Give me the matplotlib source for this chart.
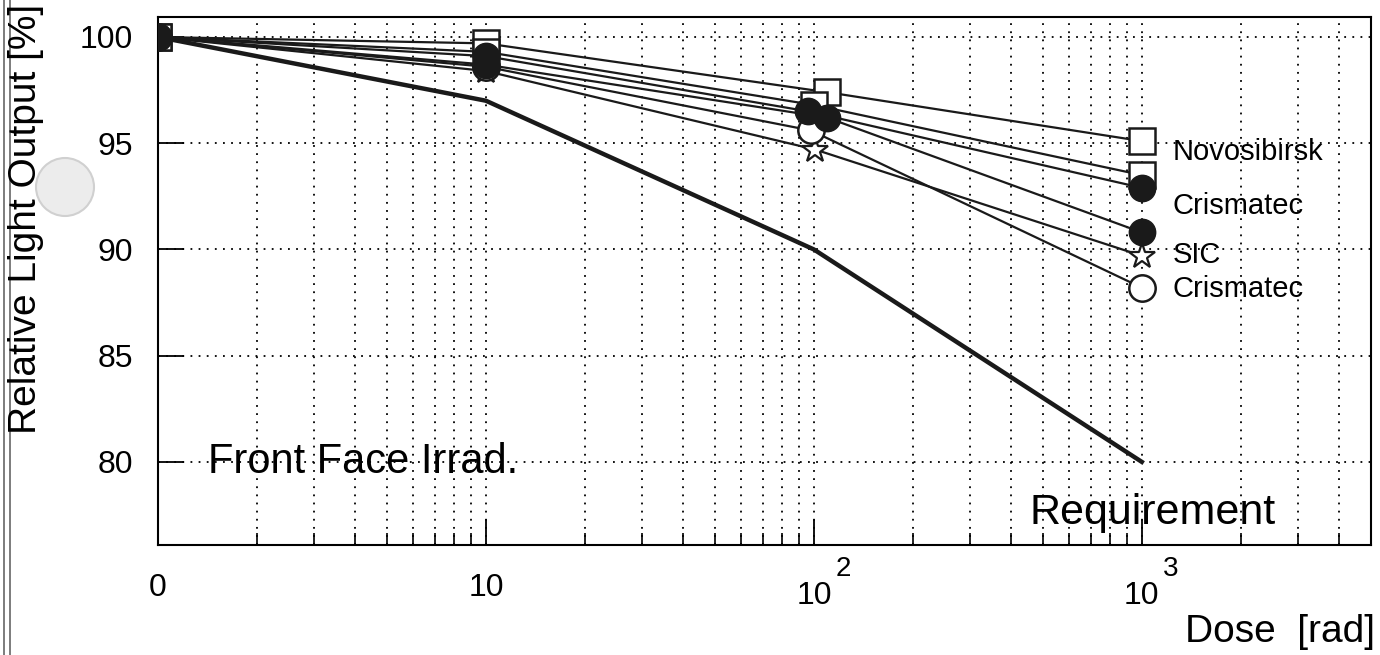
"""Relative light output vs. dose for front-face irradiated crystals."""

import matplotlib
matplotlib.use("Agg")
import matplotlib.pyplot as plt
from matplotlib.ticker import FixedLocator, FixedFormatter, NullFormatter, LogLocator
from matplotlib.patches import Circle
import numpy as np

plt.rcParams["font.family"] = ["Liberation Sans", "DejaVu Sans"]

# dose points (rad); "0" is drawn at 1 on the log axis
dose_req = [1, 10, 100, 1000]
req_output = [100.0, 97.0, 90.0, 80.0]

# measured samples: doses at the 100 rad step are spread slightly
dose_nsk_a = [1, 10, 110, 1000]
out_nsk_a = [100.0, 99.7, 97.4, 95.1]
dose_nsk_b = [1, 10, 100, 1000]
out_nsk_b = [100.0, 99.3, 96.8, 93.5]
dose_cris_a = [1, 10, 96, 1000]
out_cris_a = [100.0, 99.1, 96.5, 92.9]
dose_cris_b = [1, 10, 110, 1000]
out_cris_b = [100.0, 98.7, 96.2, 90.8]
dose_sic = [1, 10, 101, 1000]
out_sic = [100.0, 98.4, 94.7, 89.7]
dose_cris_c = [1, 10, 98, 1000]
out_cris_c = [100.0, 98.6, 95.6, 88.2]

label_names = ["Novosibirsk", "Crismatec", "SIC", "Crismatec"]
label_y = [94.6, 92.05, 89.75, 88.15]

x_ticks = [1, 10, 100, 1000]
x_ticklabels = ["0", "10", "", ""]
# decades written as 10 with a raised exponent
power_ticks = [100, 1000]
power_exps = ["2", "3"]
y_ticks = [80, 85, 90, 95, 100]

fig = plt.figure(figsize=(13.8, 6.55), dpi=100)
ax = fig.add_axes([0.1145, 0.168, 0.8790, 0.806])

ax.set_xscale("log")
ax.set_xlim(1, 5000)
ax.set_ylim(76.09, 100.94)

grid_kw = dict(color="black", linestyle=(0, (1, 3.5)), linewidth=1.3)
ax.xaxis.set_major_locator(FixedLocator(x_ticks))
ax.xaxis.set_major_formatter(FixedFormatter(x_ticklabels))
ax.xaxis.set_minor_locator(LogLocator(base=10, subs=np.arange(2, 10)))
ax.xaxis.set_minor_formatter(NullFormatter())
ax.yaxis.set_major_locator(FixedLocator(y_ticks))
ax.grid(True, which="both", axis="x", **grid_kw)
ax.grid(True, which="major", axis="y", **grid_kw)

ax.tick_params(axis="both", which="major", direction="in", length=19, width=1.3,
               labelsize=23, top=False, right=False)
ax.tick_params(axis="x", which="minor", direction="in", length=9, width=1.2,
               top=False)
ax.tick_params(axis="x", which="major", pad=20)
ax.tick_params(axis="y", which="major", pad=18)
for sp in ax.spines.values():
    sp.set_linewidth(1.5)

xtr = ax.get_xaxis_transform()
for xv, ex in zip(power_ticks, power_exps):
    ax.annotate("10", xy=(xv, 0), xycoords=xtr, xytext=(0, -37),
                textcoords="offset points", fontsize=23, ha="center", va="center")
    ax.annotate(ex, xy=(xv, 0), xycoords=xtr, xytext=(21, -17),
                textcoords="offset points", fontsize=20, ha="center", va="center")

ax.plot(dose_req, req_output, color="#1a1a1a", linewidth=3.2, zorder=3)

line_kw = dict(color="#1a1a1a", linewidth=1.6, markersize=19, zorder=4)
ax.plot(dose_nsk_a, out_nsk_a, marker="s", markerfacecolor="white",
        markeredgecolor="#1a1a1a", markeredgewidth=1.8, **line_kw)
ax.plot(dose_nsk_b, out_nsk_b, marker="s", markerfacecolor="white",
        markeredgecolor="#1a1a1a", markeredgewidth=1.8, **line_kw)
ax.plot(dose_sic, out_sic, marker="*", markerfacecolor="white",
        markeredgecolor="#1a1a1a", markeredgewidth=1.6, **line_kw)
ax.plot(dose_cris_c, out_cris_c, marker="o", markerfacecolor="white",
        markeredgecolor="#1a1a1a", markeredgewidth=1.8, **line_kw)
ax.plot(dose_cris_a, out_cris_a, marker="o", markerfacecolor="#1a1a1a",
        markeredgecolor="#1a1a1a", **line_kw)
ax.plot(dose_cris_b, out_cris_b, marker="o", markerfacecolor="#1a1a1a",
        markeredgecolor="#1a1a1a", **line_kw)

for name, yv in zip(label_names, label_y):
    ax.text(1240, yv, name, fontsize=21, va="center", ha="left", zorder=5)

ax.text(1.42, 80.0, "Front Face Irrad.", fontsize=30, va="center", ha="left")
ax.text(456, 77.6, "Requirement", fontsize=31, va="center", ha="left")

fig.text(0.9965, 0.035, "Dose  [rad]", fontsize=28, ha="right", va="center")
fig.text(0.019, 0.665, "Relative Light Output [%]", fontsize=28, rotation=90,
         ha="center", va="center")

# page edge and punch hole from the scanned sheet
for xe in (0.003, 0.007):
    fig.add_artist(plt.Line2D([xe, xe], [0, 1], color="#666666", linewidth=1.2))
fig.add_artist(Circle((0.65, 4.68), 0.29, transform=fig.dpi_scale_trans,
                      facecolor="#ececec", edgecolor="#d0d0d0", linewidth=1.5))

fig.savefig("out.png", dpi=100)
